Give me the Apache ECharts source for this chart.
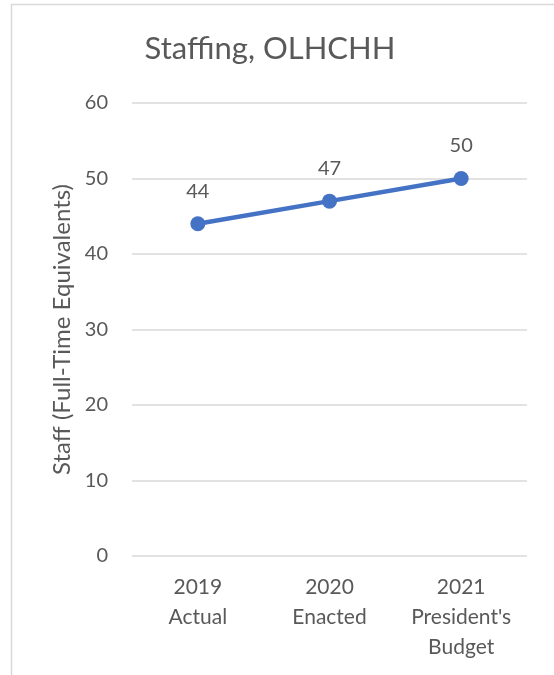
<!DOCTYPE html>
<html>
<head>
<meta charset="utf-8">
<script src="https://cdn.jsdelivr.net/npm/echarts@6/dist/echarts.min.js"></script>
<style>
  html, body { margin: 0; padding: 0; background: #fff; }
  #chart { width: 554px; height: 675px; }
</style>
</head>
<body>
<div id="chart"></div>
<script>
// Staffing levels by fiscal year
const categories = ['2019\nActual', '2020\nEnacted', "2021\nPresident's\nBudget"];
const staffValues = [44, 47, 50];
const yTicks = { min: 0, max: 60, interval: 10 };

const FONT = 'Lato, "Open Sans", sans-serif';
const TEXT = '#595959';

const chart = echarts.init(document.getElementById('chart'));
chart.setOption({
  backgroundColor: '#fff',
  animation: false,
  graphic: [{
    type: 'rect',
    shape: { x: 11.5, y: 4.5, width: 600, height: 700 },
    style: { fill: 'none', stroke: '#d9d9d9', lineWidth: 1.5 },
    silent: true
  }],
  title: {
    text: 'Staffing, OLHCHH',
    left: 265,
    top: 28,
    textAlign: 'center',
    textStyle: { fontFamily: FONT, fontSize: 31, fontWeight: 'normal', color: TEXT }
  },
  grid: { left: 132, right: 27, top: 103, bottom: 119 },
  xAxis: {
    type: 'category',
    data: categories,
    boundaryGap: true,
    axisLine: { show: false },
    axisTick: { show: false },
    axisLabel: {
      margin: 16,
      fontFamily: FONT, fontSize: 21, color: TEXT, lineHeight: 30,
      interval: 0
    }
  },
  yAxis: {
    type: 'value',
    min: yTicks.min, max: yTicks.max, interval: yTicks.interval,
    name: 'Staff (Full-Time Equivalents)',
    nameLocation: 'middle',
    nameGap: 57,
    nameTextStyle: { fontFamily: FONT, fontSize: 24, color: TEXT },
    axisLine: { show: false },
    axisTick: { show: false },
    axisLabel: { margin: 24, fontFamily: FONT, fontSize: 20, color: TEXT },
    splitLine: { lineStyle: { color: '#d9d9d9', width: 1.5 } }
  },
  series: [{
    type: 'line',
    data: staffValues,
    symbol: 'circle',
    symbolSize: 15,
    lineStyle: { color: '#4472C4', width: 4.5 },
    itemStyle: { color: '#4472C4' },
    label: {
      show: true,
      position: 'top',
      distance: 15,
      fontFamily: FONT, fontSize: 20, color: TEXT
    }
  }]
});
</script>
</body>
</html>
